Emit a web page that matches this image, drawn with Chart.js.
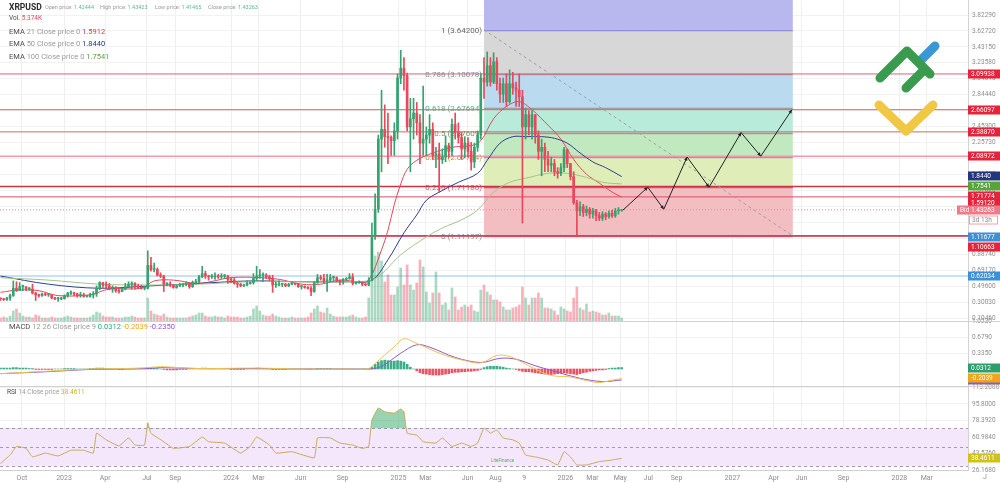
<!DOCTYPE html>
<html>
<head>
<meta charset="utf-8">
<script src="https://cdn.jsdelivr.net/npm/chart.js@4.4.1/dist/chart.umd.min.js"></script>
<style>
body{margin:0;background:#fff;width:1000px;height:483px;overflow:hidden;position:relative;font-family:Roboto,"Open Sans",sans-serif}
canvas{position:absolute;left:0}
.t{position:absolute;white-space:nowrap;line-height:1;color:#9b9b9b;font-size:7.5px}
.t b{font-weight:normal;color:#4a4a4a}
.s{font-size:5.5px}
</style>
</head>
<body>
<canvas id="priceChart" width="1000" height="326" style="top:0"></canvas>
<canvas id="macdChart" width="1000" height="75" style="top:316px"></canvas>
<canvas id="rsiChart" width="1000" height="102" style="top:381px"></canvas>

<div class="t" style="left:9px;top:3px;font-size:8.5px;font-weight:700;color:#2b2b2b">XRPUSD</div>
<div class="t s" style="left:45px;top:5px">Open price: <span style="color:#5cb88f">1.42444</span></div>
<div class="t s" style="left:100px;top:5px">High price: <span style="color:#5cb88f">1.43423</span></div>
<div class="t s" style="left:155px;top:5px">Low price: <span style="color:#5cb88f">1.41465</span></div>
<div class="t s" style="left:208px;top:5px">Close price: <span style="color:#5cb88f">1.43263</span></div>
<div class="t" style="left:9px;top:15px;font-size:6.5px"><b>Vol.</b> <span style="color:#e0485a">5.374K</span></div>
<div class="t" style="left:9px;top:28px"><b>EMA</b> 21 Close price 0 <span style="color:#e0304a">1.5912</span></div>
<div class="t" style="left:9px;top:40px"><b>EMA</b> 50 Close price 0 <span style="color:#24357a">1.8440</span></div>
<div class="t" style="left:9px;top:53px"><b>EMA</b> 100 Close price 0 <span style="color:#58a33a">1.7541</span></div>
<div class="t" style="left:9px;top:323px"><b>MACD</b> 12 26 Close price 9 <span style="color:#2fa57a">0.0312</span> <span style="color:#f0a61c">-0.2039</span> <span style="color:#8b5cc8">-0.2350</span></div>
<div class="t" style="left:7px;top:389px;font-size:6.5px"><b>RSI</b> 14 Close price <span style="color:#c9b61a">38.4611</span></div>
<div class="t" style="left:491px;top:459px;font-size:4.5px;color:#5aae6a">LiteFinance</div>

<script>
// weekly candles, first one in the week of 2022-08-08
const firstWeek = '2022-08-08';
const firstOpen = 0.37;
const closes = [
  .345,.34,.33,.35,.38,.47,.44,.49,.49,.46, .46,.41,.39,.38,.40,.39,.39,.35,.34,.34,
  .34,.38,.41,.41,.40,.38,.39,.37,.37,.39, .40,.47,.54,.51,.50,.47,.48,.44,.43,.46,
  .49,.52,.53,.49,.48,.47,.47,.75,.70,.70, .63,.62,.52,.52,.51,.48,.50,.51,.52,.52,
  .49,.54,.55,.61,.65,.62,.61,.61,.62,.61, .62,.62,.58,.57,.53,.52,.50,.51,.53,.54,
  .59,.62,.63,.63,.61,.59,.51,.51,.52,.52, .50,.52,.53,.52,.49,.49,.48,.47,.43,.54,
  .60,.59,.56,.57,.60,.60,.57,.55,.58,.59, .61,.53,.54,.54,.52,.51,.56,1.12,1.44,2.30,
  2.42,2.33,2.32,2.28,2.40,3.05,3.17,3.08,2.45,2.55, 2.62,2.50,2.25,2.30,2.35,2.42,2.10,2.12,2.05,2.08,
  2.22,2.15,2.48,2.38,2.32,2.18,2.25,2.15,2.02,2.20, 2.35,3.05,3.00,3.20,3.00,3.25,2.98,2.85,2.98,2.76,
  2.98,2.93,2.90,2.82,2.45,2.60,2.45,2.60,2.35,2.15, 2.20,2.05,1.98,2.00,1.90,1.88,1.95,2.17,2.00,1.84,
  1.52,1.42,1.47,1.40,1.44,1.38,1.42,1.36,1.33,1.38, 1.35,1.39,1.36,1.42,1.424,1.4326
];
const highs = [
  .385,.35,.345,.36,.40,.56,.55,.54,.51,.48, .48,.52,.42,.40,.41,.41,.40,.39,.36,.36,
  .36,.39,.42,.44,.42,.41,.42,.41,.38,.41, .43,.50,.55,.54,.55,.53,.50,.49,.46,.47,
  .53,.55,.55,.54,.52,.51,.49,.93,.85,.78, .72,.66,.63,.54,.55,.51,.51,.53,.53,.55,
  .53,.56,.58,.63,.74,.68,.63,.64,.66,.64, .65,.64,.63,.60,.59,.54,.53,.52,.56,.55,
  .65,.74,.70,.66,.65,.63,.63,.55,.56,.53, .53,.53,.55,.53,.53,.50,.50,.49,.49,.55,
  .64,.63,.64,.64,.64,.62,.61,.57,.59,.60, .65,.65,.55,.56,.55,.53,.60,1.27,1.63,2.35,
  2.90,2.72,2.62,2.34,2.50,3.10,3.39,3.30,3.11,2.80, 2.80,2.75,2.60,2.95,2.45,2.60,2.50,2.20,2.25,2.18,
  2.34,2.25,2.55,2.62,2.50,2.38,2.33,2.32,2.26,2.25, 2.40,3.10,3.30,3.37,3.30,3.36,3.30,3.05,3.05,3.10,
  3.15,3.12,3.00,3.10,2.90,2.68,2.65,2.65,2.60,2.40, 2.30,2.25,2.15,2.08,2.05,1.95,2.00,2.20,2.18,2.00,
  1.90,1.55,1.53,1.50,1.48,1.46,1.45,1.44,1.40,1.41, 1.40,1.42,1.43,1.45,1.46,1.4342
];
const lows = [
  .33,.32,.32,.32,.32,.37,.43,.44,.44,.44, .44,.40,.32,.36,.37,.38,.37,.34,.33,.31,
  .33,.34,.36,.39,.38,.36,.36,.36,.36,.36, .35,.37,.45,.48,.47,.45,.42,.42,.41,.43,
  .45,.49,.46,.46,.47,.46,.45,.46,.68,.67, .62,.60,.43,.50,.49,.47,.47,.49,.49,.50,
  .47,.48,.52,.54,.60,.59,.57,.59,.58,.59, .59,.59,.53,.54,.52,.48,.49,.49,.50,.52,
  .52,.56,.59,.55,.59,.56,.42,.48,.50,.49, .49,.49,.51,.51,.48,.46,.47,.46,.38,.42,
  .53,.57,.54,.43,.55,.56,.55,.51,.52,.57, .58,.51,.52,.53,.50,.50,.50,.56,1.07,1.40,
  1.90,2.20,2.00,2.10,2.10,2.30,2.98,2.90,2.40,1.90, 2.30,2.35,2.00,2.10,2.10,2.25,2.05,1.95,1.65,2.00,
  2.02,2.07,2.10,2.30,2.25,2.05,2.07,2.08,1.92,1.95, 2.15,2.30,2.80,2.95,2.95,2.98,2.90,2.75,2.75,2.70,
  2.74,2.85,2.70,2.70,1.27,2.30,2.35,2.30,2.25,2.05, 1.85,1.90,1.90,1.90,1.85,1.82,1.85,1.90,1.95,1.80,
  1.50,1.12,1.36,1.35,1.36,1.33,1.33,1.30,1.30,1.30, 1.31,1.33,1.34,1.34,1.38,1.4147
];
const volumes = [
  4,3,4,3,5,10,12,8,5,4,4,3, 6,5,3,3,3,4,3,3,3,4,5,4, 3,3,3,3,3,4,6,9,8,5,4,4,
  4,3,3,3,4,4,5,4,3,3,3,23, 10,7,6,5,7,4,3,3,3,3,3,3, 4,5,6,8,8,5,4,4,5,4,4,3,
  5,4,4,4,3,3,4,5,12,15,10,6, 5,5,7,5,4,3,3,3,4,3,3,3, 3,4,8,12,15,9,8,13,7,5,4,4,
  4,4,5,6,4,3,3,4,
  23,39,65,69,60,39,46,26,26,34, 53,36,56,36,31,38,61,54,29,18, 28,49,28,16,18,11,33,24,11,14,
  16,14,16,10,9,31,36,29,26,21, 21,19,14,11,11,13,14,16,34,23, 16,23,23,28,23,13,13,12,10,6,
  14,12,10,9,23,34,13,11,17,9, 10,9,8,6,6,8,5,5,5,3
];

// moving averages (week number, price)
const ema21Weeks = [1,7,13,19,29,35,45,49,55,63,73,82,88,95,101,107,113,116,120,122,124,126,128,131,136,142,148,151,155,159,163,167,172,176,180,184,188,192,195];
const ema21Values = [0.42,0.45,0.44,0.38,0.39,0.46,0.47,0.56,0.57,0.53,0.60,0.60,0.58,0.52,0.52,0.57,0.55,0.57,0.94,1.18,1.50,1.75,1.93,2.04,2.13,2.20,2.22,2.28,2.55,2.70,2.76,2.66,2.47,2.30,2.05,1.87,1.76,1.65,1.59];
const ema50Weeks = [1,16,32,48,63,79,95,110,117,122,127,131,134,139,144,150,153,157,161,165,170,174,178,182,186,190,195];
const ema50Values = [0.62,0.52,0.47,0.50,0.53,0.56,0.55,0.55,0.57,0.82,1.15,1.37,1.55,1.67,1.77,1.88,2.04,2.25,2.33,2.33,2.33,2.31,2.25,2.13,2.02,1.95,1.84];
const ema100Weeks = [1,16,32,48,63,79,95,110,118,126,134,139,145,150,155,160,165,172,178,184,189,195];
const ema100Values = [0.60,0.57,0.52,0.51,0.52,0.55,0.55,0.55,0.59,0.88,1.10,1.21,1.31,1.43,1.65,1.77,1.82,1.88,1.88,1.83,1.77,1.75];

// horizontal price lines
const priceLines = [3.09938, 2.66097, 2.38870, 2.08972, 1.71774, 1.5912, 1.43263, 1.11677, 1.10663, 0.62034];
const priceLineColors = ['#d9607a','#d9607a','#c96a6a','#f29aaa','#cc3344','#d65064','#e58a96','#8a5a94','#c8506a','#8cc4e8'];

// fibonacci retracement
const fibStart = '2025-07-07';
const fibEnd = '2027-05-13';
const fibLevels = ['1', '0.786', '0.618', '0.5', '0.382', '0.236', '0'];
const fibPrices = [3.642, 3.10078, 2.67694, 2.37609, 2.07734, 1.71186, 1.11197];

// projected path
const projDates = ['2026-05-07','2026-06-30','2026-08-04','2026-09-24','2026-11-11','2027-01-20','2027-03-04','2027-05-11'];
const projValues = [1.43, 1.71, 1.44, 2.08, 1.71, 2.38, 2.09, 2.66];

// MACD
const macdWeeks = [1,15,29,40,47,51,63,80,95,110,116,118,121,124,127,131,135,140,146,151,156,160,164,168,173,179,184,188,192,195];
const macdValues = [-0.10,-0.05,0.0,0.01,0.03,0.05,0.01,0.02,0.0,0.0,0.01,0.12,0.30,0.48,0.65,0.55,0.43,0.29,0.18,0.13,0.29,0.27,0.14,0.0,-0.14,-0.17,-0.25,-0.29,-0.24,-0.204];
const signalWeeks = [1,15,29,40,47,51,63,80,95,110,116,119,122,126,131,135,143,151,157,162,168,175,182,189,195];
const signalValues = [-0.10,-0.06,-0.01,0.0,0.01,0.03,0.01,0.01,0.0,0.0,0.0,0.03,0.14,0.34,0.52,0.47,0.25,0.14,0.23,0.21,0.07,-0.07,-0.20,-0.27,-0.235];
const histValues = [
  0.02,0.02,0.02,0.02,0.02,0.03,0.03,0.02,0.02,0.02,0.01,0.01,
  -0.01,-0.01,-0.01,-0.01,-0.01,-0.01,0,0,0,0.01,0.01,0.01,
  0.01,0,0,0,0,0.01,0.01,0.02,0.02,0.02,0.01,0.01,
  0,0,-0.01,-0.01,0,0,0,0,0,0,0,0.03,
  0.03,0.02,0.01,0,-0.01,-0.02,-0.02,-0.02,-0.02,-0.01,-0.01,-0.01,
  0,0,0.01,0.01,0.02,0.02,0.01,0.01,0,0,0,0,
  0,-0.01,-0.01,-0.01,-0.01,-0.01,0,0,0.01,0.02,0.02,0.01,
  0.01,0,-0.01,-0.01,-0.01,-0.01,-0.01,0,0,0,0,0,
  0,-0.01,-0.01,0,0.01,0.01,0.01,0.01,0.01,0,0,0,
  0,0,0,0,0,0,0,0,
  0.01,0.04,0.10,0.15,0.18,0.19,0.18,0.17,0.17,0.18,
  0.17,0.15,0.10,0.04,0.00,-0.04,-0.08,-0.10,-0.11,-0.12,
  -0.13,-0.13,-0.13,-0.12,-0.11,-0.10,-0.08,-0.07,-0.07,-0.06,
  -0.06,-0.05,-0.05,-0.04,-0.03,-0.01,0.03,0.05,0.06,0.06,
  0.06,0.05,0.04,0.02,0.01,0.00,-0.01,-0.03,-0.05,-0.06,
  -0.06,-0.07,-0.08,-0.09,-0.10,-0.11,-0.12,-0.12,-0.11,-0.10,
  -0.09,-0.08,-0.09,-0.10,-0.11,-0.12,-0.10,-0.08,-0.07,-0.05,
  -0.04,-0.03,-0.02,-0.02,-0.01,0.01,0.02,0.02,0.03,0.0312
];

// RSI
const rsiWeeks = [1,4,6,9,11,15,19,23,27,30,31,34,38,41,43,46,47,48,52,55,60,64,66,71,76,79,81,85,87,92,99,100,104,107,111,114,116,117,119,121,124,126,127,128,131,133,137,139,142,145,148,150,152,154,156,158,161,163,165,168,172,175,177,179,181,184,188,192,195];
const rsiValues = [33,42,51,49,40,44,41,47,47,44,65,58,51.5,60,52.5,52.5,76,65,56,49,51,61,56,54.6,44,51,61,52.5,44,45.5,39,60,60,54.6,52.5,49,51,79,91.6,87.7,86.3,90.5,87.7,65,63,56,54.6,60,51,54.6,51,54.6,70.5,65,68.4,60,58,54.6,42,40,36.7,31.5,45.5,40,31.5,31.5,35,36.7,38.46];
const rsiBands = [70, 50, 30];

// axis ticks
const xTickDates = ['2022-10-01','2023-01-01','2023-04-01','2023-07-01','2023-09-01','2024-01-01','2024-03-01','2024-06-01','2024-09-01','2025-01-01','2025-03-01','2025-06-01','2025-08-01','2025-10-03','2026-01-01','2026-03-01','2026-05-01','2026-07-01','2026-09-01','2027-01-01','2027-04-01','2027-06-01','2027-09-01','2028-01-01','2028-03-01'];
const xTickLabels = ['Oct','2023','Apr','Jul','Sep','2024','Mar','Jun','Sep','2025','Mar','Jun','Aug','9','2026','Mar','May','Jul','Sep','2027','Apr','Jun','Sep','2028','Mar'];
const priceTicks = [0.1046,0.3003,0.4960,0.6917,0.8874,1.0831,1.2788,1.4745,1.6702,1.8659,2.0616,2.2573,2.4530,2.6487,2.8444,3.0401,3.2358,3.4315,3.6272,3.8229];
const macdTicks = [1.023, 0.679, 0.335];
const rsiTicks = [113.208, 95.8, 78.392, 60.984, 43.576, 26.168];

// ---------------------------------------------------------------
Chart.defaults.font.family = 'Roboto, "Open Sans", sans-serif';

const day = s => (Date.parse(s) - Date.parse('2023-01-01')) / 864e5;
const weekDay = w => day(firstWeek) + 7 * w;
const xMin = day('2022-08-14');
const xMax = day('2028-05-30');
const UP = '#35a36f', DOWN = '#e8485a';

const opens = closes.map((c, i) => i === 0 ? firstOpen : closes[i - 1]);
const isUp = closes.map((c, i) => c >= opens[i]);
const pts = (weeks, vals) => weeks.map((w, i) => ({x: weekDay(w), y: vals[i]}));

function xAxis(showLabels) {
  return {
    type: 'linear', min: xMin, max: xMax, offset: false,
    border: {display: showLabels, color: '#cfcfcf'},
    grid: {color: '#efefef', drawTicks: false, offset: false},
    afterBuildTicks: s => { s.ticks = xTickDates.map(d => ({value: day(d)})); },
    afterFit: s => { s.height = showLabels ? 13 : 0; s.paddingLeft = 0; s.paddingRight = 0; },
    ticks: {display: showLabels, autoSkip: false, maxRotation: 0, padding: 4,
      color: '#8d8d8d', font: {size: 7}, callback: (v, i) => xTickLabels[i]}
  };
}
function yAxis(ticks, min, max, digits) {
  return {
    position: 'right', min: min, max: max,
    border: {display: true, color: '#d3d3d3'},
    grid: {color: '#f2f2f2', drawTicks: false},
    afterBuildTicks: s => { s.ticks = ticks.map(v => ({value: v})); },
    afterFit: s => { s.width = 32; s.paddingTop = 0; s.paddingBottom = 0; },
    ticks: {padding: 4, color: '#8d8d8d', font: {size: 6.5}, callback: v => v.toFixed(digits)}
  };
}
function tag(ctx, x, y, w, text, bg, fg) {
  ctx.fillStyle = bg;
  ctx.fillRect(x, Math.round(y) - 4.5, w, 9);
  ctx.fillStyle = fg;
  ctx.font = '6.5px Roboto';
  ctx.textAlign = 'left';
  ctx.textBaseline = 'middle';
  ctx.fillText(text, x + 3, Math.round(y) + 0.5);
}
function separator(chart) {
  const ctx = chart.ctx, y = chart.chartArea.top + 0.5;
  ctx.save();
  ctx.strokeStyle = '#d0d0d0'; ctx.lineWidth = 1;
  ctx.beginPath(); ctx.moveTo(0, y); ctx.lineTo(1000, y); ctx.stroke();
  ctx.restore();
}

// ---------------- price pane ----------------
const fibFill = ['#b8b7ee','#d7d7d7','#badaef','#b9ebda','#c1e9bf','#dfeeb8','#f3bec2'];
const fibLine = ['#8c8cd8','#a39a9a','#a39a9a','#a39a9a','#a39a9a','#cf6070','#9a7a9a'];
const fibText = ['#666','#7c8c9c','#62a889','#5f9a4c','#a5a440','#c25b62','#888'];

const priceDecor = {
  id: 'priceDecor',
  beforeDatasetsDraw(chart) {
    const {ctx, chartArea: a, scales: {x, y}} = chart;
    const x0 = x.getPixelForValue(day(fibStart)), x1 = x.getPixelForValue(day(fibEnd));
    ctx.save();
    ctx.beginPath(); ctx.rect(a.left, a.top, a.width, a.height); ctx.clip();
    ctx.fillStyle = fibFill[0];
    ctx.fillRect(x0, a.top, x1 - x0, y.getPixelForValue(fibPrices[0]) - a.top);
    for (let k = 0; k < fibPrices.length - 1; k++) {
      const ya = y.getPixelForValue(fibPrices[k]), yb = y.getPixelForValue(fibPrices[k + 1]);
      ctx.fillStyle = fibFill[k + 1];
      ctx.fillRect(x0, ya, x1 - x0, yb - ya);
    }
    ctx.font = '8px Roboto'; ctx.textAlign = 'right'; ctx.textBaseline = 'middle';
    fibPrices.forEach((p, k) => {
      const yy = Math.round(y.getPixelForValue(p)) + 0.5;
      ctx.strokeStyle = fibLine[k]; ctx.lineWidth = 1.5;
      ctx.beginPath(); ctx.moveTo(x0, yy); ctx.lineTo(x1, yy); ctx.stroke();
      ctx.fillStyle = fibText[k];
      ctx.fillText(fibLevels[k] + ' (' + p.toFixed(5) + ')', x0 - 2, yy);
    });
    ctx.restore();
  },
  afterDatasetsDraw(chart) {
    const ctx = chart.ctx;
    // arrow heads on the projected path
    const meta = chart.getDatasetMeta(chart.data.datasets.length - 1);
    ctx.save();
    ctx.fillStyle = '#222';
    for (let k = 1; k < meta.data.length; k++) {
      const p = meta.data[k], q = meta.data[k - 1];
      const ang = Math.atan2(p.y - q.y, p.x - q.x);
      ctx.beginPath();
      ctx.moveTo(p.x, p.y);
      ctx.lineTo(p.x - 4 * Math.cos(ang - 0.45), p.y - 4 * Math.sin(ang - 0.45));
      ctx.lineTo(p.x - 4 * Math.cos(ang + 0.45), p.y - 4 * Math.sin(ang + 0.45));
      ctx.closePath(); ctx.fill();
    }
    // logo
    ctx.lineCap = 'round'; ctx.lineJoin = 'round'; ctx.lineWidth = 9;
    const stroke = (c, p) => { ctx.strokeStyle = c; ctx.beginPath(); ctx.moveTo(p[0], p[1]);
      for (let i = 2; i < p.length; i += 2) ctx.lineTo(p[i], p[i + 1]); ctx.stroke(); };
    stroke('#3b98d6', [921, 60, 935, 46]);
    stroke('#3a9a4e', [880, 78, 907, 51, 930, 74]);
    stroke('#3a9a4e', [906, 88, 922, 72]);
    stroke('#f0c843', [879, 105, 906, 131, 933, 105]);
    ctx.restore();
  },
  afterDraw(chart) {
    const ctx = chart.ctx, y = chart.scales.y;
    const tags = [
      [3.09938, '3.09938', '#e5243b', 0], [2.66097, '2.66097', '#e5243b', 0],
      [2.38870, '2.38870', '#e5243b', 0], [2.08972, '2.08972', '#e5243b', 0],
      [1.8440, '1.8440', '#24357a', 0], [1.7541, '1.7541', '#58a33a', 2.5],
      [1.71774, '1.71774', '#e5243b', 9.5], [1.5912, '1.59120', '#e5243b', 6],
      [0.62034, '0.62034', '#3d8fd6', 0], [1.10663, '1.10663', '#e5243b', 10.5],
      [1.11677, '1.11677', '#3d8fd6', 1.5]
    ];
    ctx.save();
    tags.forEach(t => tag(ctx, 968, y.getPixelForValue(t[0]) + t[3], 32, t[1], t[2], '#fff'));
    tag(ctx, 957, y.getPixelForValue(1.43263), 43, 'Bid 1.43263', '#f07a88', '#fff');
    const yy = Math.round(y.getPixelForValue(1.43263)) + 10;
    ctx.fillStyle = '#fff'; ctx.fillRect(969, yy - 4.5, 29, 9);
    ctx.strokeStyle = '#f3a0aa'; ctx.lineWidth = 1; ctx.strokeRect(969.5, yy - 4, 28, 8);
    ctx.fillStyle = '#888'; ctx.font = '6.5px Roboto'; ctx.textAlign = 'left';
    ctx.fillText('3d 13h', 972, yy + 0.5);
    ctx.restore();
  }
};

const priceDatasets = priceLines.map((v, k) => ({
  type: 'line', yAxisID: 'y', order: 20,
  data: [{x: xMin, y: v}, {x: xMax, y: v}],
  borderColor: priceLineColors[k], borderWidth: (k === 3 || k === 4) ? 1.5 : 1,
  borderDash: k === 6 ? [1, 2] : [], pointRadius: 0
}));
priceDatasets.push({
  type: 'line', yAxisID: 'y', order: 19,
  data: [{x: day(fibStart), y: fibPrices[0]}, {x: day(fibEnd), y: fibPrices[6]}],
  borderColor: '#a0a0a0', borderWidth: 1, borderDash: [3, 3], pointRadius: 0
});
priceDatasets.push({
  type: 'bar', yAxisID: 'vol', order: 15, grouped: false, barThickness: 2,
  data: volumes.map((v, i) => ({x: weekDay(i), y: v})),
  backgroundColor: isUp.map(u => u ? 'rgba(53,163,111,0.42)' : 'rgba(232,72,90,0.42)')
});
[[ema21Weeks, ema21Values, '#e8485a'], [ema50Weeks, ema50Values, '#2f3f8f'], [ema100Weeks, ema100Values, '#a3c48d']]
  .forEach((e, k) => priceDatasets.push({
    type: 'line', yAxisID: 'y', order: 10 - k, data: pts(e[0], e[1]),
    borderColor: e[2], borderWidth: 1, pointRadius: 0, tension: 0.35
  }));
priceDatasets.push({
  type: 'bar', yAxisID: 'y', order: 4, grouped: false, barThickness: 1,
  data: closes.map((c, i) => ({x: weekDay(i), y: [lows[i], highs[i]]})),
  backgroundColor: isUp.map(u => u ? UP : DOWN)
});
priceDatasets.push({
  type: 'bar', yAxisID: 'y', order: 3, grouped: false, barThickness: 2, minBarLength: 1,
  data: closes.map((c, i) => ({x: weekDay(i), y: [opens[i], c]})),
  backgroundColor: isUp.map(u => u ? UP : DOWN)
});
priceDatasets.push({
  type: 'line', yAxisID: 'y', order: 1,
  data: projDates.map((d, i) => ({x: day(d), y: projValues[i]})),
  borderColor: '#222', borderWidth: 1, pointRadius: 0, tension: 0
});

new Chart(document.getElementById('priceChart'), {
  type: 'line',
  data: {datasets: priceDatasets},
  options: {
    responsive: false, animation: false, devicePixelRatio: 1, events: [],
    layout: {padding: {top: 0, bottom: 5, left: 0, right: 0}},
    plugins: {legend: {display: false}, tooltip: {enabled: false}},
    scales: {
      x: xAxis(false),
      y: yAxis(priceTicks, 3.8229 + 15 / 81.5, 3.8229 + 15 / 81.5 - 321 / 81.5, 5),
      vol: {display: false, min: 0, max: 321}
    }
  },
  plugins: [priceDecor]
});

// ---------------- MACD pane ----------------
new Chart(document.getElementById('macdChart'), {
  type: 'line',
  data: {datasets: [
    {type: 'bar', order: 3, grouped: false, barThickness: 2,
      data: histValues.map((v, i) => ({x: weekDay(i), y: v})),
      backgroundColor: histValues.map(v => v >= 0 ? '#3aae86' : '#ea5364')},
    {type: 'line', order: 2, data: pts(signalWeeks, signalValues),
      borderColor: '#8b5cc8', borderWidth: 1, pointRadius: 0, tension: 0.35},
    {type: 'line', order: 1, data: pts(macdWeeks, macdValues),
      borderColor: '#f2c14e', borderWidth: 1, pointRadius: 0, tension: 0.35}
  ]},
  options: {
    responsive: false, animation: false, devicePixelRatio: 1, events: [],
    layout: {padding: {top: 5, bottom: 5, left: 0, right: 0}},
    plugins: {legend: {display: false}, tooltip: {enabled: false}},
    scales: {x: xAxis(false), y: yAxis(macdTicks, -17 / 46.5, 48 / 46.5, 4)}
  },
  plugins: [{
    id: 'macdDecor',
    afterDraw(chart) {
      separator(chart);
      const ctx = chart.ctx, y = chart.scales.y;
      ctx.save();
      tag(ctx, 968, y.getPixelForValue(-0.235), 32, '-0.2350', '#8b5cc8', '#fff');
      tag(ctx, 968, y.getPixelForValue(-0.2039), 32, '-0.2039', '#f0a61c', '#fff');
      tag(ctx, 968, y.getPixelForValue(0.0312), 32, '0.0312', '#2e9e6e', '#fff');
      ctx.restore();
    }
  }]
});

// ---------------- RSI pane ----------------
new Chart(document.getElementById('rsiChart'), {
  type: 'line',
  data: {datasets: [{
    data: pts(rsiWeeks, rsiValues),
    borderColor: '#c9a95c', borderWidth: 1, pointRadius: 0, tension: 0.1,
    fill: {target: {value: 70}, above: 'rgba(70,175,115,0.55)', below: 'rgba(0,0,0,0)'}
  }]},
  options: {
    responsive: false, animation: false, devicePixelRatio: 1, events: [],
    layout: {padding: {top: 5, bottom: 0, left: 0, right: 0}},
    plugins: {legend: {display: false}, tooltip: {enabled: false}},
    scales: {x: xAxis(true), y: yAxis(rsiTicks, 60.984 - 33 / 0.948, 60.984 + 51 / 0.948, 4)}
  },
  plugins: [{
    id: 'rsiDecor',
    beforeDatasetsDraw(chart) {
      const {ctx, chartArea: a, scales: {y}} = chart;
      const yTop = y.getPixelForValue(rsiBands[0]), yBot = y.getPixelForValue(rsiBands[2]);
      ctx.save();
      ctx.fillStyle = '#f4e7fb';
      ctx.fillRect(a.left, yTop, a.width, yBot - yTop);
      ctx.strokeStyle = '#a596b8'; ctx.lineWidth = 1; ctx.setLineDash([3, 3]);
      rsiBands.forEach(b => {
        const yy = Math.round(y.getPixelForValue(b)) + 0.5;
        ctx.beginPath(); ctx.moveTo(a.left, yy); ctx.lineTo(a.right, yy); ctx.stroke();
      });
      ctx.restore();
    },
    afterDraw(chart) {
      separator(chart);
      const ctx = chart.ctx, y = chart.scales.y;
      ctx.save();
      tag(ctx, 968, y.getPixelForValue(38.4611), 32, '38.4611', '#cfc21f', '#fff');
      ctx.fillStyle = '#8d8d8d'; ctx.font = '7px Roboto'; ctx.textAlign = 'center'; ctx.textBaseline = 'top';
      ctx.fillText('J', 985, chart.chartArea.bottom + 4);
      ctx.restore();
    }
  }]
});
</script>
</body>
</html>
